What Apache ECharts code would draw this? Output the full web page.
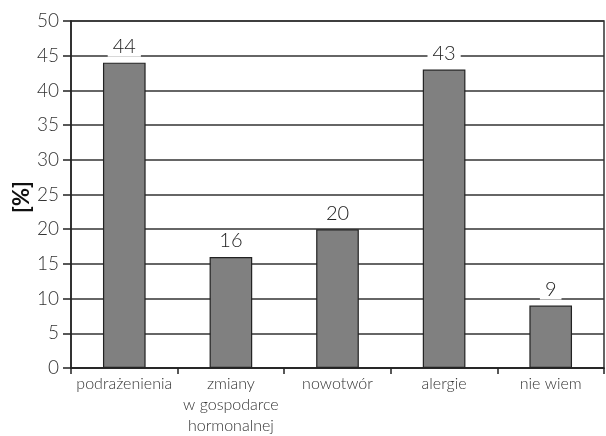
<!DOCTYPE html>
<html>
<head>
<meta charset="utf-8">
<script src="https://cdn.jsdelivr.net/npm/echarts@6/dist/echarts.min.js"></script>
<style>
  html, body { margin: 0; padding: 0; background: #fff; }
  #chart { width: 606px; height: 436px; }
</style>
</head>
<body>
<div id="chart"></div>
<script>
// Categories (x axis) and percentages (y axis)
const categories = ['podrażenienia', 'zmiany\nw gospodarce\nhormonalnej', 'nowotwór', 'alergie', 'nie wiem'];
const percentValues = [44, 16, 20, 43, 9];
const yTicks = { min: 0, max: 50, interval: 5 };
const yAxisTitle = '[%]';

const FONT = 'Lato, "Open Sans", sans-serif';
const chart = echarts.init(document.getElementById('chart'), null, { renderer: 'canvas' });

chart.setOption({
  animation: false,
  backgroundColor: '#ffffff',
  grid: {
    left: 71, right: 2, top: 21, bottom: 64,
    show: true, borderColor: '#333', borderWidth: 1.5
  },
  // vertical y-axis title, reading bottom to top
  graphic: [{
    type: 'text',
    x: 22, y: 197,
    rotation: Math.PI / 2,
    style: {
      text: yAxisTitle,
      fill: '#111',
      font: 'bold 22px ' + FONT,
      align: 'center',
      verticalAlign: 'middle'
    }
  }],
  xAxis: {
    type: 'category',
    data: categories,
    boundaryGap: true,
    axisLine: { lineStyle: { color: '#222', width: 1.5 } },
    axisTick: { show: true, alignWithLabel: false, length: 6, lineStyle: { color: '#222', width: 1.5 } },
    axisLabel: {
      interval: 0, margin: 5, color: '#333', fontFamily: FONT,
      fontSize: 16, lineHeight: 21, fontWeight: 300
    }
  },
  yAxis: {
    type: 'value',
    min: yTicks.min, max: yTicks.max, interval: yTicks.interval,
    axisLine: { show: true, lineStyle: { color: '#222', width: 1.5 } },
    axisTick: { show: true, length: 8, lineStyle: { color: '#222', width: 1.5 } },
    axisLabel: { margin: 12, color: '#333', fontFamily: FONT, fontSize: 19, fontWeight: 300 },
    splitLine: { show: true, lineStyle: { color: '#333', width: 1.5 } }
  },
  series: [{
    type: 'bar',
    data: percentValues,
    barWidth: '40%',
    itemStyle: { color: '#808080', borderColor: '#222', borderWidth: 1.2 },
    label: {
      show: true, position: 'top', distance: 6,
      color: '#222', fontFamily: FONT, fontSize: 20, fontWeight: 300,
      lineHeight: 20, backgroundColor: '#fff', padding: [0, 5]
    }
  }]
});
</script>
</body>
</html>
